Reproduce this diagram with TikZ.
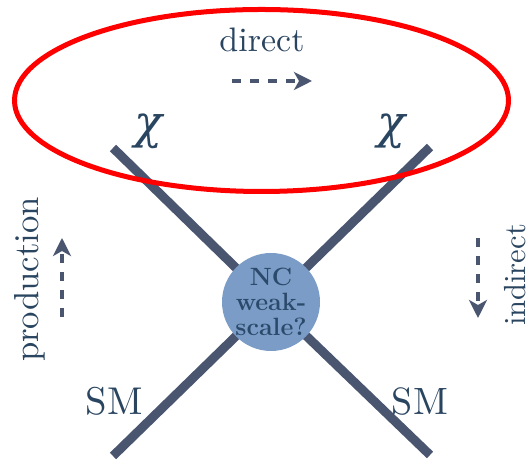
\documentclass[tikz,border=0pt]{standalone}
\usepackage{fontspec}
\newfontfamily\greekfont{DejaVu Serif}
\usetikzlibrary{arrows.meta,shapes.geometric,backgrounds}
\definecolor{linec}{HTML}{4A5570}
\definecolor{textc}{HTML}{2A4560}
\definecolor{circfill}{HTML}{7B9CC6}
\definecolor{circtext}{HTML}{2B4A6B}
\newcommand{\fitw}[2]{\resizebox{#1}{!}{#2}}
\begin{document}
\begin{tikzpicture}[x=1pt,y=1pt,
  leg/.style={draw=linec,line width=9pt},
  lbl/.style={text=textc,inner sep=0pt,anchor=base},
  chilbl/.style={text=textc,inner sep=0pt},
  darr/.style={draw=linec,line width=4pt,dash pattern=on 9pt off 9pt,-{Stealth[length=18pt,width=18pt,inset=5pt]}}]
\useasboundingbox (0,0) rectangle (531,462);
\coordinate (ltop) at (113,314);
\coordinate (rtop) at (430,315);
\coordinate (lbot) at (113,6);
\coordinate (rbot) at (430,7);
\node[circle,fill=circfill,minimum size=97pt,inner sep=0pt,align=center,text=circtext,font=\bfseries\fontsize{25}{25}\selectfont] (nc) at (271,160) {NC\\weak-\\scale?};
\begin{scope}[on background layer]
\draw[leg] (ltop) -- (nc.center);
\draw[leg] (rtop) -- (nc.center);
\draw[leg] (lbot) -- (nc.center);
\draw[leg] (rbot) -- (nc.center);
\end{scope}
\node[ellipse,draw=red,line width=5pt,minimum width=494pt,minimum height=182pt,inner sep=0pt] (ell) at (261.5,361.5) {};
\node[lbl] (direct) at (262,410) {\fitw{85pt}{direct}};
\node[chilbl] (chil) at (149,331) {\fitw{28pt}{\greekfont\itshape χ}};
\node[chilbl] (chir) at (392,331) {\fitw{28pt}{\greekfont\itshape χ}};
\node[lbl] (sml) at (114,47) {\fitw{57pt}{SM}};
\node[lbl] (smr) at (420,47) {\fitw{56pt}{SM}};
\node[lbl,rotate=90] (prod) at (38,182.5) {\fitw{165pt}{production}};
\node[lbl,rotate=90] (indir) at (525,187) {\fitw{102pt}{indirect}};
\coordinate (da) at (232,381);
\coordinate (db) at (312,381);
\draw[darr] (da) -- (db);
\coordinate (pa) at (62,145);
\coordinate (pb) at (62,224);
\draw[darr] (pa) -- (pb);
\coordinate (ia) at (478,224);
\coordinate (ib) at (478,144);
\draw[darr] (ia) -- (ib);
\end{tikzpicture}
\end{document}
